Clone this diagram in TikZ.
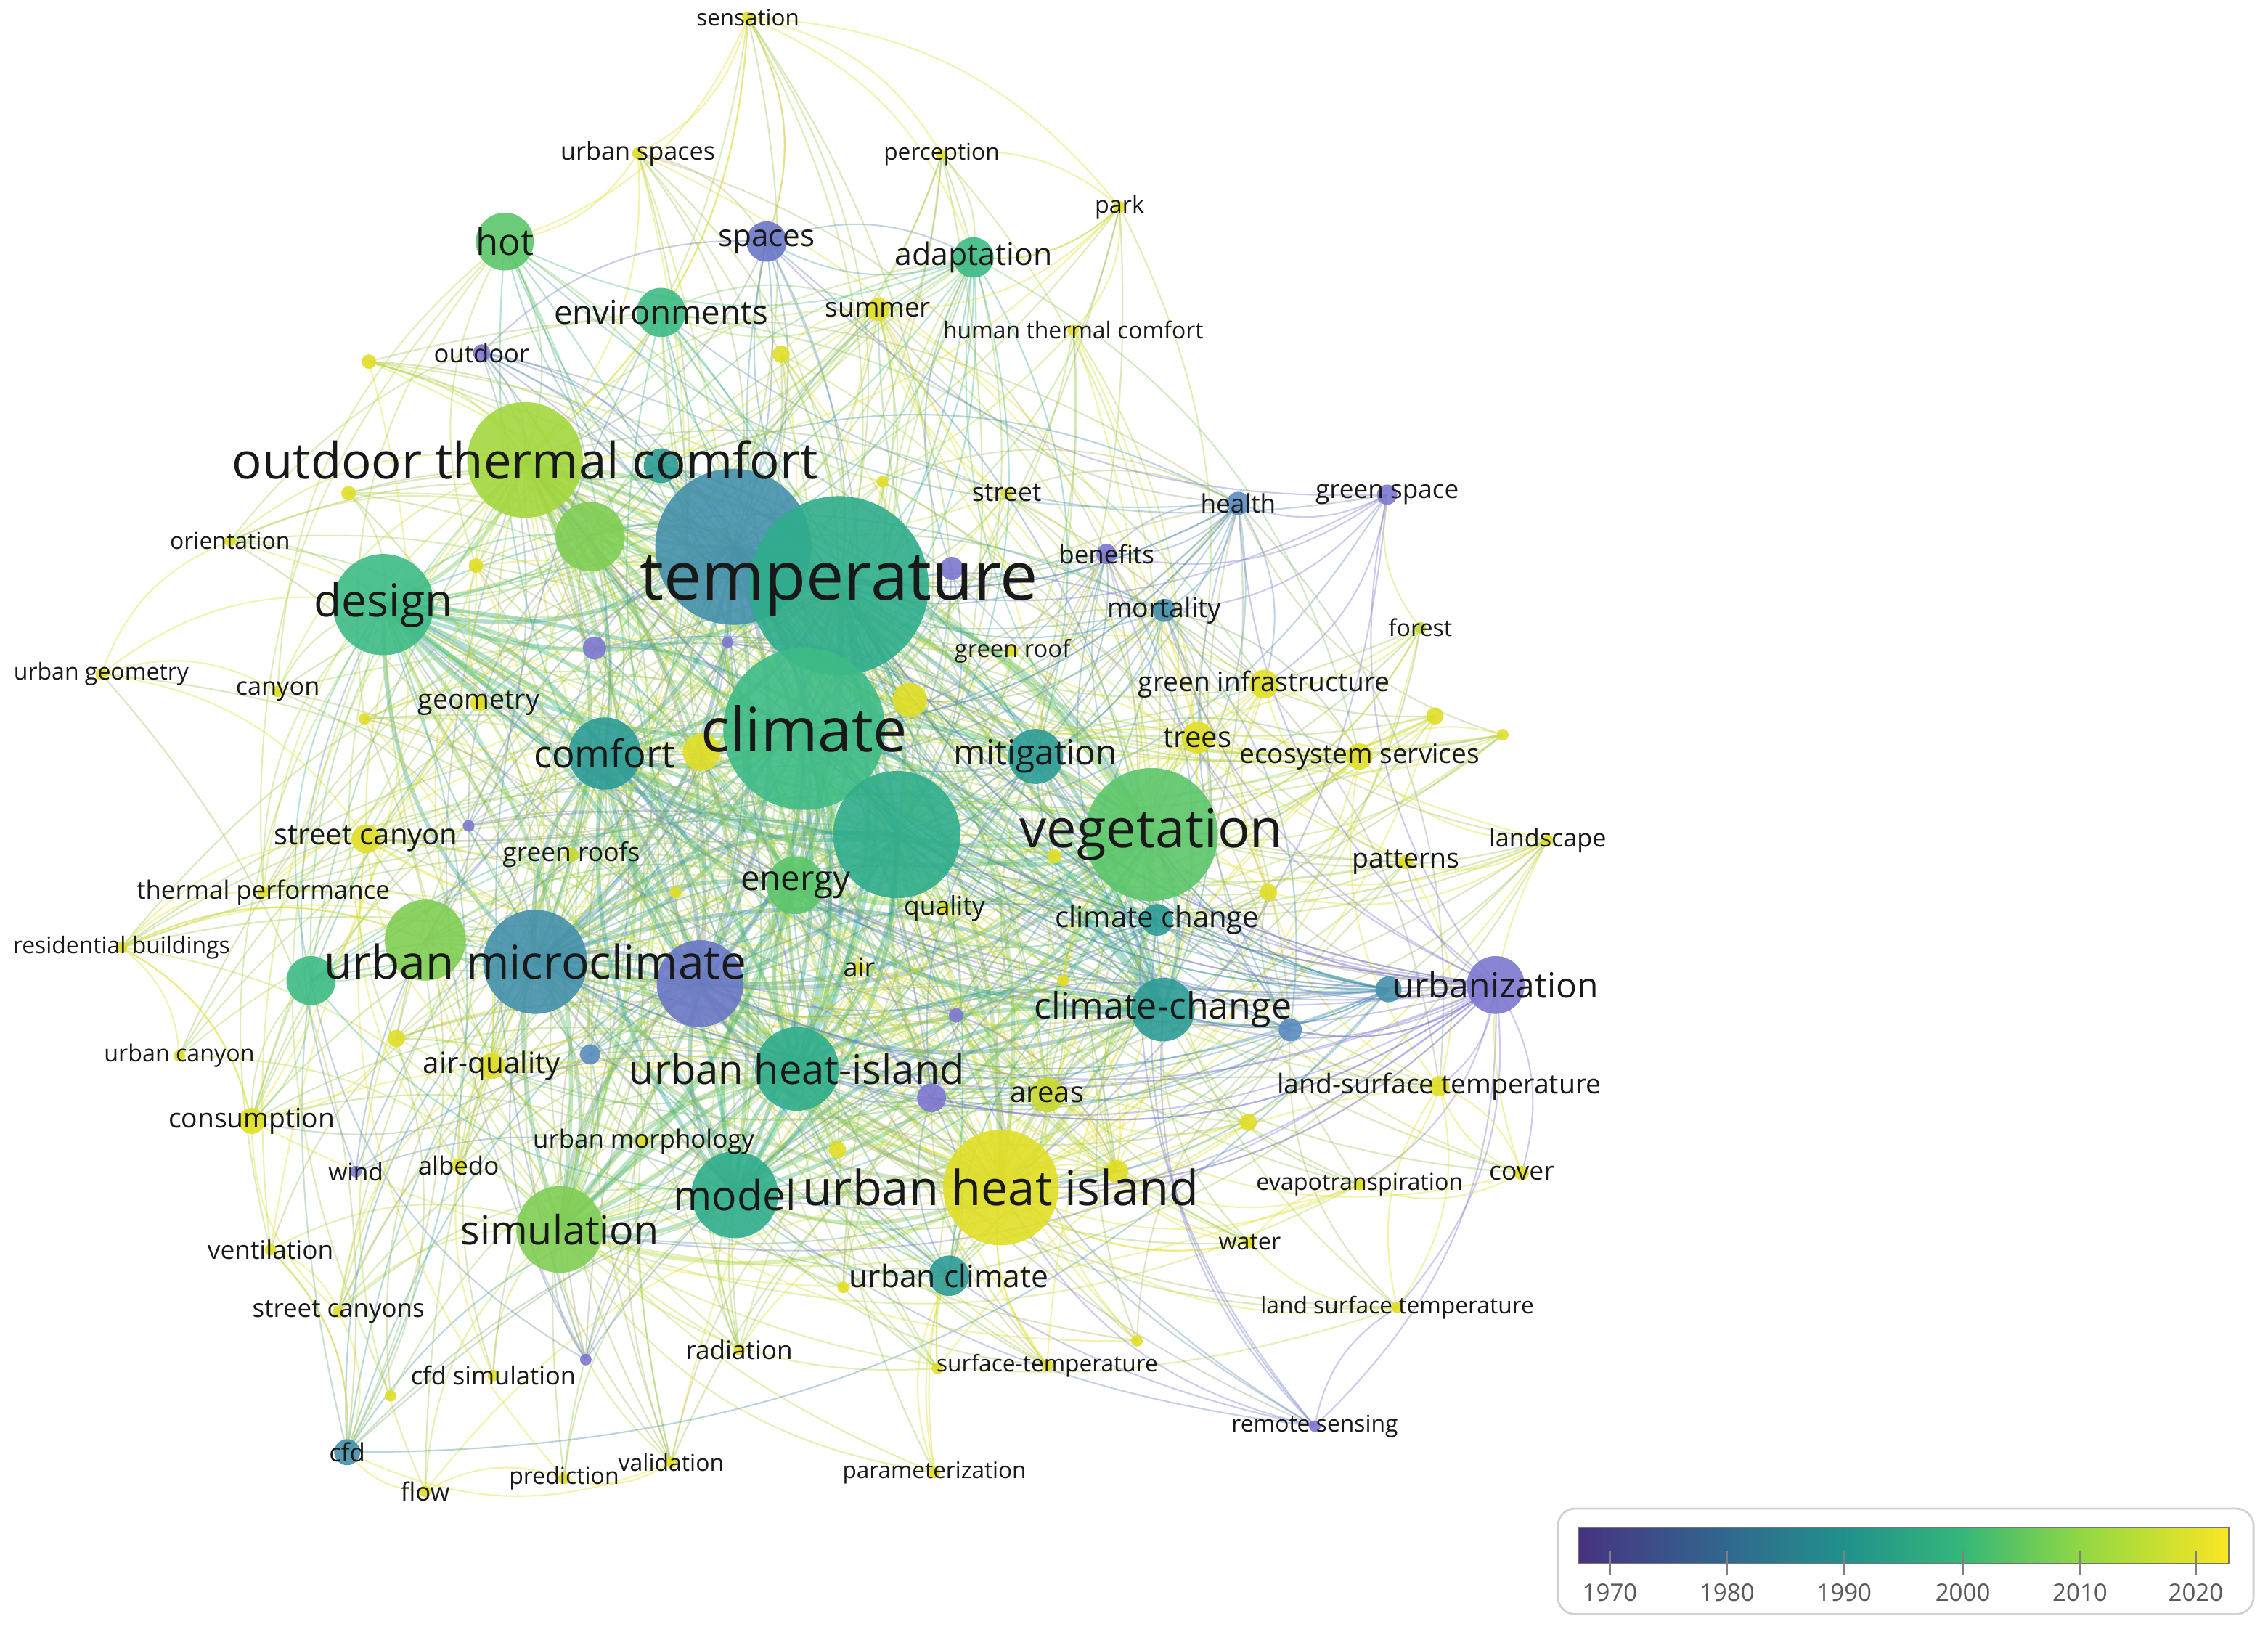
\documentclass[tikz,border=0pt]{standalone}
\usepackage{fontspec}
\setmainfont{Open Sans}
\usepackage{graphicx}
\pgfdeclarelayer{bg}
\pgfdeclarelayer{fg}
\pgfsetlayers{bg,main,fg}
\definecolor{kY}{HTML}{E1DE27}
\definecolor{kYa}{HTML}{C9D934}
\definecolor{kYG}{HTML}{A3D73E}
\definecolor{kLG}{HTML}{80CE55}
\definecolor{kG2}{HTML}{5CC66B}
\definecolor{kG1}{HTML}{3EBB86}
\definecolor{kGT}{HTML}{2FAD8B}
\definecolor{kT2}{HTML}{2D9C96}
\definecolor{kT1}{HTML}{4490AB}
\definecolor{kB}{HTML}{5A8CC0}
\definecolor{kP2}{HTML}{6A77C6}
\definecolor{kP}{HTML}{7E77D0}
\newlength\kwlen \setlength\kwlen{0.02cm}
\newdimen\kwdx \newdimen\kwdy
\tikzset{
 kwc/.style={circle, inner sep=0pt, fill opacity=0.9, draw=none},
 kwl/.style={inner sep=0pt, text=black!90, anchor=center},
 edge/.style={line width=0.6pt, opacity=0.38},
 hubedge/.style={line width=1.6pt, opacity=0.4},
 arc/.style={bend left=24},
}
\newcommand\kw[6]{%
  \colorlet{c#1}{#4}%
  \node[kwc, minimum size=#3*0.04cm, fill=#4] (#1) at (#2) {};%
  \begin{pgfonlayer}{fg}%
  \node[kwl] (#1-l) at (#1.center) {\resizebox{#5\kwlen}{!}{#6}};%
  \end{pgfonlayer}%
}
\newcommand\kwn[4]{%
  \colorlet{c#1}{#4}%
  \node[kwc, minimum size=#3*0.04cm, fill=#4] (#1) at (#2) {};%
}
\newcommand\kwedge[4]{%
  \pgfextractx{\kwdx}{\pgfpointdiff{\pgfpointanchor{#1}{center}}{\pgfpointanchor{#2}{center}}}%
  \pgfextracty{\kwdy}{\pgfpointdiff{\pgfpointanchor{#1}{center}}{\pgfpointanchor{#2}{center}}}%
  \pgfmathsetmacro\kwthr{#3*exp(-veclen(\kwdx,\kwdy)/#4)}%
  \pgfmathsetmacro\kwr{rnd}%
  \ifdim\kwr pt<\kwthr pt\relax
    \draw[edge,color=c#1!60!c#2] (#1.center) to[arc] (#2.center);%
  \fi
}
\begin{document}
\begin{tikzpicture}[x=0.02cm,y=-0.02cm]
\useasboundingbox (0,0) rectangle (1568,1128);
\begin{pgfonlayer}{bg}\fill[white] (0,0) rectangle (1568,1128);\end{pgfonlayer}
% ---------- nodes (largest first) ----------
\kwn{tempb}{507,378}{54}{kT1}
\kw{temp}{580,405}{62}{kGT}{275}{temperature}
\kw{clim}{556,504}{56}{kG1}{143}{climate}
\kw{veg}{796,577}{46}{kG2}{182}{vegetation}
\kwn{bigu}{620,577}{44}{kGT}
\kw{otc}{363,318}{40}{kYG}{405}{outdoor thermal comfort}
\kw{uhi}{692,821}{40}{kY}{274}{urban heat island}
\kw{umc}{370,665}{36}{kT1}{292}{urban microclimate}
\kw{design}{265,418}{35}{kG1}{96}{design}
\kwn{purp}{484,680}{30}{kP2}
\kw{model}{508,826}{30}{kGT}{85}{model}
\kw{sim}{387,850}{30}{kLG}{137}{simulation}
\kw{uhid}{551,739}{29}{kGT}{232}{urban heat-island}
\kwn{gr2}{294,650}{28}{kLG}
\kw{comfort}{418,521}{25}{kT2}{98}{comfort}
\kwn{gr1}{408,371}{24}{kLG}
\kw{ccd}{804,698}{22}{kT2}{178}{climate-change}
\kw{energy}{550,612}{20}{kG2}{76}{energy}
\kw{hot}{349,167}{20}{kG2}{40}{hot}
\kw{urbz}{1034,681}{20}{kP}{142}{urbanization}
\kw{mitig}{716,523}{19}{kT2}{113}{mitigation}
\kw{env}{457,216}{17}{kG1}{148}{environments}
\kwn{gr3}{215,678}{17}{kG1}
\kw{adapt}{673,178}{14}{kG1}{109}{adaptation}
\kw{spaces}{530,167}{14}{kP2}{67}{spaces}
\kw{uclim}{656,882}{14}{kT2}{138}{urban climate}
\kwn{tsm}{457,322}{12}{kT2}
\kwn{y1}{485,520}{13}{kY}
\kwn{y2}{629,484}{12}{kY}
\kw{areas}{724,757}{12}{kYa}{51}{areas}
\kw{ccs}{800,636}{11}{kT2}{141}{climate change}
\kw{trees}{828,510}{11}{kY}{47}{trees}
\kw{ginf}{874,473}{10}{kY}{174}{green infrastructure}
\kw{scan}{253,580}{10}{kY}{127}{street canyon}
\kwn{u19}{644,759}{10}{kP}
\kw{airq}{340,737}{9}{kY}{95}{air-quality}
\kw{cons}{174,775}{9}{kY}{115}{consumption}
\kw{ecos}{940,523}{9}{kY}{166}{ecosystem services}
\kw{cfd}{240,1004}{9}{kT1}{25}{cfd}
\kwn{u22}{960,684}{9}{kT1}
\kw{mort}{805,422}{8}{kT1}{79}{mortality}
\kw{health}{856,348}{8}{kB}{52}{health}
\kwn{u6}{658,393}{8}{kP}
\kwn{u7}{411,448}{8}{kP}
\kw{summer}{607,214}{8}{kY}{73}{summer}
\kwn{u21}{892,712}{8}{kB}
\kwn{u25}{772,810}{8}{kY}
\kw{benef}{765,383}{7}{kP}{66}{benefits}
\kw{gspace}{959,342}{7}{kP}{99}{green space}
\kwn{u17}{408,729}{7}{kB}
\kw{lst}{995,751}{7}{kY}{224}{land-surface temperature}
\kwn{u2}{540,245}{6}{kY}
\kw{outdoor}{333,244}{6}{kP}{66}{outdoor}
\kwn{u13}{877,617}{6}{kY}
\kwn{u14}{992,495}{6}{kY}
\kwn{u16}{274,718}{6}{kY}
\kwn{u23}{863,776}{6}{kY}
\kwn{u24}{579,795}{6}{kY}
\kw{geom}{331,486}{6}{kY}{84}{geometry}
\kwn{u1}{255,250}{5}{kY}
\kwn{u3}{241,341}{5}{kY}
\kwn{u4}{329,391}{5}{kY}
\kwn{u12}{729,592}{5}{kY}
\kw{albedo}{317,806}{5}{kY}{56}{albedo}
\kw{cover}{1052,811}{5}{kY}{45}{cover}
\kw{groofs}{395,591}{5}{kYa}{95}{green roofs}
\kw{patt}{972,596}{5}{kY}{74}{patterns}
\kwn{u18}{661,702}{5}{kP}
\kw{sens}{517,12}{4}{kY}{71}{sensation}
\kw{uspace}{441,106}{4}{kY}{107}{urban spaces}
\kw{perc}{651,107}{4}{kY}{80}{perception}
\kw{park}{774,143}{4}{kY}{34}{park}
\kw{htc}{742,228}{4}{kY}{180}{human thermal comfort}
\kw{street}{696,341}{4}{kY}{48}{street}
\kw{orient}{159,374}{4}{kY}{83}{orientation}
\kw{forest}{982,434}{4}{kYa}{44}{forest}
\kw{groof}{700,450}{4}{kY}{80}{green roof}
\kw{ugeom}{70,466}{4}{kY}{121}{urban geometry}
\kw{canyon}{192,478}{4}{kY}{58}{canyon}
\kw{landsc}{1070,581}{4}{kY}{81}{landscape}
\kw{quality}{653,628}{4}{kY}{56}{quality}
\kw{tperf}{182,617}{4}{kY}{175}{thermal performance}
\kw{resb}{84,655}{4}{kY}{150}{residential buildings}
\kw{air}{594,669}{4}{kY}{22}{air}
\kw{ucan}{124,730}{4}{kY}{104}{urban canyon}
\kw{umorph}{445,789}{4}{kY}{153}{urban morphology}
\kw{wind}{246,810}{4}{kP}{38}{wind}
\kw{evap}{940,819}{4}{kY}{143}{evapotranspiration}
\kw{water}{864,859}{4}{kY}{43}{water}
\kw{vent}{187,864}{4}{kY}{87}{ventilation}
\kw{scans}{234,907}{4}{kY}{119}{street canyons}
\kw{lst2}{966,904}{4}{kY}{189}{land surface temperature}
\kw{rad}{511,933}{4}{kY}{74}{radiation}
\kw{stemp}{724,944}{4}{kY}{153}{surface-temperature}
\kw{cfdsim}{341,951}{4}{kY}{114}{cfd simulation}
\kw{rsens}{909,986}{4}{kP}{115}{remote sensing}
\kw{valid}{464,1011}{4}{kY}{73}{validation}
\kw{flow}{294,1031}{4}{kY}{34}{flow}
\kw{pred}{390,1022}{4}{kY}{76}{prediction}
\kw{param}{646,1018}{4}{kY}{127}{parameterization}
\kwn{u5}{610,333}{4}{kY}
\kwn{u8}{503,444}{4}{kP}
\kwn{u9}{252,497}{4}{kY}
\kwn{u10}{324,571}{4}{kP}
\kwn{u11}{467,617}{4}{kY}
\kwn{u15}{1039,508}{4}{kY}
\kwn{u20}{735,678}{4}{kY}
\kwn{u26}{583,890}{4}{kY}
\kwn{u27}{786,927}{4}{kY}
\kwn{u28}{405,940}{4}{kP}
\kwn{u29}{270,965}{4}{kY}
\kwn{u30}{648,946}{4}{kY}
% ---------- connectors ----------
\begin{pgfonlayer}{bg}
\pgfmathsetseed{4242}
\foreach \a [count=\i] in {temp,tempb,clim,otc,veg,uhi,umc,bigu,design,model,sim,uhid,ccd,comfort,energy,purp}{
  \foreach \b [count=\j] in {temp,tempb,clim,otc,veg,uhi,umc,bigu,design,model,sim,uhid,ccd,comfort,energy,purp}{
    \ifnum\j>\i \draw[hubedge,color=c\a!50!c\b] (\a.center) to[arc] (\b.center);\fi
  }
}
\foreach \a in {sens,uspace,perc,park,hot,spaces,adapt,env,summer,htc,outdoor,street,health,gspace,orient,benef,mort,forest,groof,ugeom,canyon,ginf,geom,mitig,trees,ecos,scan,groofs,landsc,patt,quality,tperf,ccs,resb,air,urbz,ucan,airq,lst,areas,cons,umorph,wind,albedo,evap,cover,water,vent,uclim,scans,lst2,rad,stemp,cfdsim,rsens,cfd,valid,flow,pred,param,gr1,gr2,gr3,tsm,y1,y2,u1,u2,u3,u4,u5,u6,u7,u8,u9,u10,u11,u12,u13,u14,u15,u16,u17,u18,u19,u20,u21,u22,u23,u24,u25,u26,u27,u28,u29,u30}{
  \foreach \b/\pr in {temp/0.95,tempb/0.85,clim/0.95,otc/0.8,veg/0.75,uhi/0.75,umc/0.8,bigu/0.7,design/0.7,model/0.55,sim/0.6,uhid/0.65,ccd/0.55,comfort/0.55,energy/0.45,purp/0.5}{
    \kwedge{\a}{\b}{\pr}{300}
  }
}
\foreach \a in {temp,tempb,clim,otc,veg,uhi,umc,bigu,design,model,sim,uhid,ccd,comfort,energy,purp,sens,uspace,perc,park,hot,spaces,adapt,env,summer,htc,outdoor,street,health,gspace,orient,benef,mort,forest,groof,ugeom,canyon,ginf,geom,mitig,trees,ecos,scan,groofs,landsc,patt,quality,tperf,ccs,resb,air,urbz,ucan,airq,lst,areas,cons,umorph,wind,albedo,evap,cover,water,vent,uclim,scans,lst2,rad,stemp,cfdsim,rsens,cfd,valid,flow,pred,param,gr1,gr2,gr3,tsm,y1,y2,u1,u2,u3,u4,u5,u6,u7,u8,u9,u10,u11,u12,u13,u14,u15,u16,u17,u18,u19,u20,u21,u22,u23,u24,u25,u26,u27,u28,u29,u30}{
  \foreach \b in {hot,env,adapt,spaces,uclim,mitig,gr1,gr2,gr3,y1,y2,areas,ccs,trees,ginf,ecos,mort,health,benef,scan,airq,cons,cfd,tsm,u21,u19,lst,u13,u25,summer}{
    \kwedge{\a}{\b}{0.4}{140}
  }
}
\foreach \b in {temp,tempb,clim,veg,bigu,ccd,ccs,mitig,uhi,uhid,purp,umc,comfort,energy,design,otc,model,sim,u21,u19,health,mort,benef,gspace,lst,evap,cover,rsens,lst2,patt}{
  \draw[edge,curbz] (urbz.center) to[arc] (\b.center);
}
\foreach \b in {temp,tempb,clim,veg,bigu,ccd,ccs,mitig,uhi,uhid,purp,umc,comfort,design,otc}{
  \draw[edge,cu22] (u22.center) to[arc] (\b.center);
}
\foreach \a/\b in {gspace/health,gspace/benef,gspace/mort,health/benef,health/mort,gspace/ginf,health/ginf,gspace/tempb,health/tempb,gspace/uhi,health/clim,rsens/ccd,rsens/uhi,rsens/veg,rsens/lst2,sens/perc,sens/uspace,sens/park,sens/hot,sens/otc,sens/spaces,sens/adapt,perc/park,park/summer,park/htc,park/adapt,park/otc,uspace/hot,uspace/otc,resb/cons,resb/tperf,resb/ucan,resb/scan,resb/umc,resb/gr2,ugeom/orient,ugeom/canyon,ugeom/design,ugeom/scan,lst/cover,lst/evap,lst/lst2,cover/evap,cover/landsc,landsc/patt,landsc/ecos,landsc/veg,ecos/u14,ecos/u15,u14/trees,water/uhi,water/evap,lst2/uhi,lst2/water,param/uhi,param/uclim,stemp/uhi,valid/cfd,valid/pred,flow/cfd,flow/pred,scans/cfd,vent/cfd,vent/scans,forest/gspace,forest/veg}{
  \draw[edge,c\a] (\a.center) to[arc] (\b.center);
}
\end{pgfonlayer}
% ---------- legend ----------
\node[draw=black!18, line width=0.8pt, rounded corners=0.24cm, minimum width=481*0.02cm, minimum height=73*0.02cm, inner sep=0pt] (legend) at (1317.5,1079.5) {};
\shade[left color={rgb,255:red,70;green,50;blue,126}, right color={rgb,255:red,67;green,62;blue,133}] (1091,1056) rectangle (1113.5,1081);
\shade[left color={rgb,255:red,67;green,62;blue,133}, right color={rgb,255:red,49;green,104;blue,142}] (1113,1056) rectangle (1194.5,1081);
\shade[left color={rgb,255:red,49;green,104;blue,142}, right color={rgb,255:red,33;green,145;blue,140}] (1194,1056) rectangle (1275.5,1081);
\shade[left color={rgb,255:red,33;green,145;blue,140}, right color={rgb,255:red,53;green,183;blue,121}] (1275,1056) rectangle (1357.5,1081);
\shade[left color={rgb,255:red,53;green,183;blue,121}, right color={rgb,255:red,144;green,215;blue,67}] (1357,1056) rectangle (1438.5,1081);
\shade[left color={rgb,255:red,144;green,215;blue,67}, right color={rgb,255:red,250;green,230;blue,35}] (1438,1056) rectangle (1541,1081);
\node[draw=black!55, line width=0.6pt, minimum width=450*0.02cm, minimum height=25*0.02cm, inner sep=0pt] (bar) at (1316,1068.5) {};
\foreach \x/\yr in {1113/1970,1194/1980,1275/1990,1357/2000,1438/2010,1518/2020}{
  \draw[black!50, line width=0.8pt] (\x,1072) -- (\x,1089);
  \node[text=black!65, inner sep=0pt] (yr\yr) at (\x,1101) {\resizebox{38\kwlen}{!}{\yr}};
}
\end{tikzpicture}
\end{document}
